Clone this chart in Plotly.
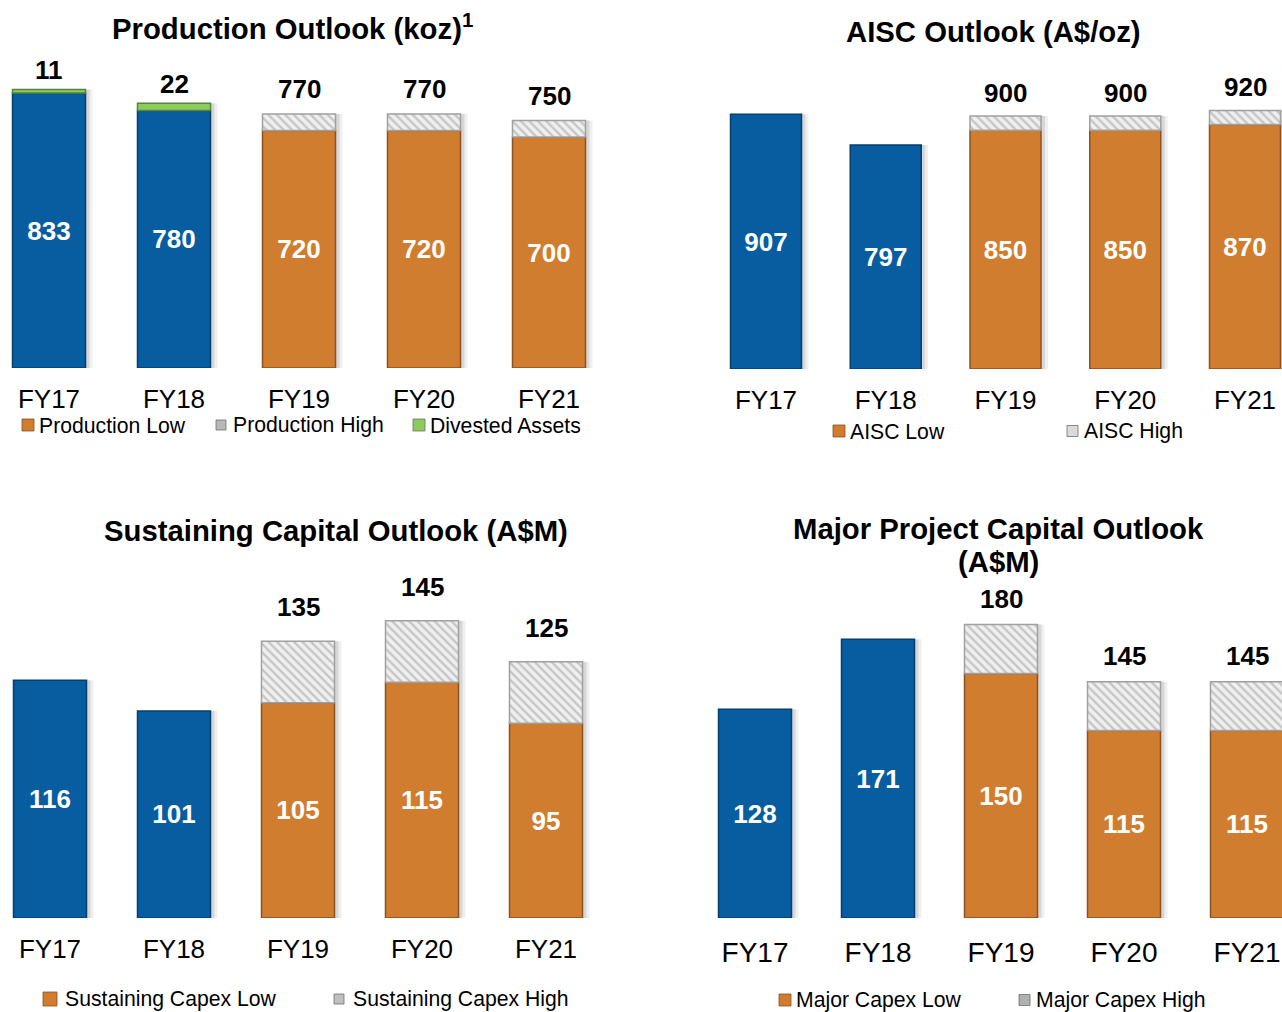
import plotly.graph_objects as go

# ---- data ----
years = ["FY17", "FY18", "FY19", "FY20", "FY21"]

prod_low = [833, 780, 720, 720, 700]
prod_high = [None, None, 770, 770, 750]
prod_divested = [11, 22, None, None, None]

aisc_low = [907, 797, 850, 850, 870]
aisc_high = [None, None, 900, 900, 920]

sust_low = [116, 101, 105, 115, 95]
sust_high = [None, None, 135, 145, 125]

major_low = [128, 171, 150, 115, 115]
major_high = [None, None, 180, 145, 145]

# ---- styling ----
W, H = 1282, 1012
FONT = "Liberation Sans, Arial, sans-serif"
BLUE, BLUE_EDGE = "#075DA0", "#053F70"
ORANGE, ORANGE_EDGE = "#D07D2F", "#8C5220"
GREEN, GREEN_EDGE = "#8CCB5E", "#54853A"
HATCH_FG, HATCH_BG, HATCH_EDGE = "#9C9C9C", "#F0F0F0", "#A0A0A0"
N_ACTUAL = 2  # FY17, FY18 are actuals (blue)

fig = go.Figure()

# panel geometry in pixels: first bar centre, bar pitch, bar width,
# horizontal extent, baseline, pixels per unit, top of plot area,
# label lift above high-range bars and above divested segments
panels = [
    dict(cx=49, pitch=125, bw=73, x0=0, x1=612, base=368, ppu=0.330, top=50, lift=25, lift_extra=19),
    dict(cx=766, pitch=119.75, bw=71, x0=700, x1=1282, base=369, ppu=0.281, top=60, lift=23, lift_extra=23),
    dict(cx=50, pitch=124, bw=73, x0=0, x1=612, base=918, ppu=2.05, top=560, lift=34, lift_extra=34),
    dict(cx=755, pitch=123, bw=73, x0=700, x1=1282, base=918, ppu=1.63, top=570, lift=26, lift_extra=26),
]

series = [
    (prod_low, prod_high, prod_divested),
    (aisc_low, aisc_high, None),
    (sust_low, sust_high, None),
    (major_low, major_high, None),
]

tick_sizes = [26, 26, 26, 28]
tick_len = [8, 8, 8, 9]

xs = list(range(len(years)))
annotations = []

for i, (p, (low, high, extra)) in enumerate(zip(panels, series)):
    n = "" if i == 0 else str(i + 1)
    xa, ya = "x" + n, "y" + n
    width = p["bw"] / p["pitch"]

    # overall bar tops, used for the soft drop shadow
    tops = []
    for k in xs:
        t = high[k] if high[k] is not None else low[k]
        if extra is not None and extra[k] is not None:
            t = low[k] + extra[k]
        tops.append(t)
    for shift_px, alpha in [(7, 0.06), (4, 0.10)]:
        fig.add_trace(go.Bar(
            x=xs, y=[t + shift_px / p["ppu"] for t in tops],
            base=[-shift_px / p["ppu"]] * len(xs), width=width,
            offset=-width / 2 + shift_px / p["pitch"],
            xaxis=xa, yaxis=ya, showlegend=False,
            marker=dict(color=f"rgba(0,0,0,{alpha})", line=dict(width=0)),
            hoverinfo="skip",
        ))

    # main (low / actual) segment
    fig.add_trace(go.Bar(
        x=xs, y=low, base=[0] * len(low), width=width,
        xaxis=xa, yaxis=ya, showlegend=False,
        marker=dict(
            color=[BLUE if k < N_ACTUAL else ORANGE for k in xs],
            line=dict(color=[BLUE_EDGE if k < N_ACTUAL else ORANGE_EDGE for k in xs], width=1.5),
        ),
        text=[str(v) for v in low], textposition="inside", insidetextanchor="middle",
        textfont=dict(family=FONT, size=26, color="white", weight="bold"),
        textangle=0, hoverinfo="skip",
    ))

    # hatched high-range segment above the low value
    hx = [k for k in xs if high[k] is not None]
    fig.add_trace(go.Bar(
        x=hx, y=[high[k] - low[k] for k in hx], base=[low[k] for k in hx], width=width,
        xaxis=xa, yaxis=ya, showlegend=False,
        marker=dict(
            color=HATCH_BG, line=dict(color=HATCH_EDGE, width=1.5),
            pattern=dict(shape="\\", fgcolor=HATCH_FG, bgcolor=HATCH_BG, size=6, solidity=0.4),
        ),
        hoverinfo="skip",
    ))

    # divested assets segment
    if extra is not None:
        ex = [k for k in xs if extra[k] is not None]
        fig.add_trace(go.Bar(
            x=ex, y=[extra[k] for k in ex], base=[low[k] for k in ex], width=width,
            xaxis=xa, yaxis=ya, showlegend=False,
            marker=dict(color=GREEN, line=dict(color=GREEN_EDGE, width=1.5)),
            hoverinfo="skip",
        ))

    # labels above bars
    for k in xs:
        if high[k] is not None:
            yv, txt, lift = high[k], str(high[k]), p["lift"]
        elif extra is not None and extra[k] is not None:
            yv, txt, lift = low[k] + extra[k], str(extra[k]), p["lift_extra"]
        else:
            continue
        annotations.append(dict(
            x=k, y=yv, xref=xa, yref=ya, text=txt, showarrow=False,
            yanchor="middle", yshift=lift,
            font=dict(family=FONT, size=26, color="black", weight="bold"),
        ))

    # axes
    xr0 = (p["x0"] - p["cx"]) / p["pitch"]
    xr1 = (p["x1"] - p["cx"]) / p["pitch"]
    yr1 = (p["base"] - p["top"]) / p["ppu"]
    fig.update_layout(**{
        "xaxis" + n: dict(
            domain=[p["x0"] / W, p["x1"] / W], range=[xr0, xr1], anchor=ya,
            tickvals=xs, ticktext=years, showgrid=False, zeroline=False,
            showline=False, ticks="outside", ticklen=tick_len[i],
            tickcolor="rgba(0,0,0,0)",
            tickfont=dict(family=FONT, size=tick_sizes[i], color="black"),
            fixedrange=True,
        ),
        "yaxis" + n: dict(
            domain=[1 - p["base"] / H, 1 - p["top"] / H], range=[0, yr1], anchor=xa,
            visible=False, fixedrange=True,
        ),
    })

# titles (the two-line title is set as two lines for tighter spacing)
titles = [
    ("Production Outlook (koz)<sup>1</sup>", 292, 27),
    ("AISC Outlook (A$/oz)", 993, 31),
    ("Sustaining Capital Outlook (A$M)", 336, 530),
    ("Major Project Capital Outlook", 998, 528),
    ("(A$M)", 998, 561),
]
for txt, px, py in titles:
    annotations.append(dict(
        x=px / W, y=1 - py / H, xref="paper", yref="paper", text=txt,
        showarrow=False, xanchor="center", yanchor="middle",
        font=dict(family=FONT, size=29.3, color="black", weight="bold"),
    ))

# legends: (label, icon colour, icon left, icon right, text left, centre y)
legend_items = [
    ("Production Low", ORANGE, 22, 34, 37, 425),
    ("Production High", "#B8B8B8", 216, 226, 231, 425),
    ("Divested Assets", GREEN, 413, 425, 428, 425),
    ("AISC Low", ORANGE, 833, 845, 848, 431),
    ("AISC High", "#DADADA", 1067, 1078, 1082, 431),
    ("Sustaining Capex Low", ORANGE, 43, 57, 63, 999),
    ("Sustaining Capex High", "#BFBFBF", 334, 344, 351, 999),
    ("Major Capex Low", ORANGE, 779, 791, 794, 1000),
    ("Major Capex High", "#B0B0B0", 1019, 1030, 1034, 1000),
]
shapes = []
for label, col, il, ir, tl, cy in legend_items:
    half = (ir - il) / 2
    shapes.append(dict(
        type="rect", xref="paper", yref="paper",
        x0=il / W, x1=ir / W, y0=1 - (cy + half) / H, y1=1 - (cy - half) / H,
        fillcolor=col, line=dict(color="#6E6E6E" if col != ORANGE else ORANGE_EDGE, width=0.8),
    ))
    annotations.append(dict(
        x=tl / W, y=1 - cy / H, xref="paper", yref="paper", text=label,
        showarrow=False, xanchor="left", yanchor="middle",
        font=dict(family=FONT, size=21.2, color="black"),
    ))

fig.update_layout(
    width=W, height=H, margin=dict(l=0, r=0, t=0, b=0),
    paper_bgcolor="white", plot_bgcolor="white",
    barmode="overlay", showlegend=False,
    annotations=annotations, shapes=shapes,
    font=dict(family=FONT),
)

fig.write_html("out.html")
